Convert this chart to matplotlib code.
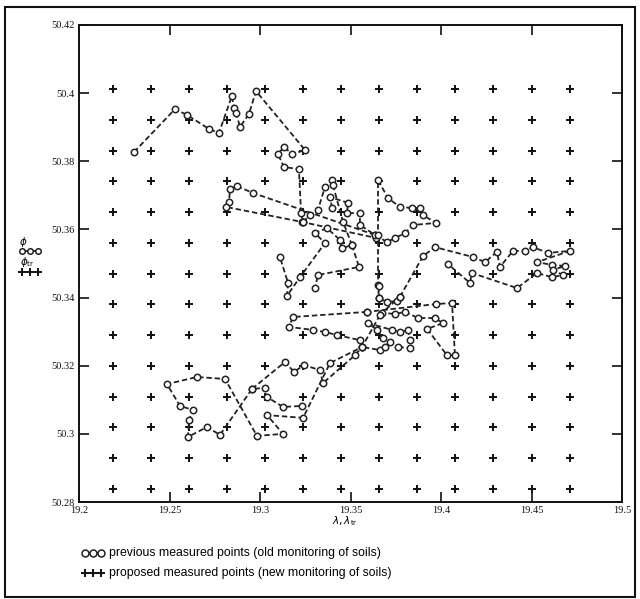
import matplotlib
matplotlib.use("Agg")
import matplotlib.pyplot as plt
from matplotlib.lines import Line2D
from matplotlib.patches import Rectangle

# proposed sampling grid (new monitoring)
grid_lon = [19.219, 19.240, 19.261, 19.282, 19.303, 19.324, 19.345,
            19.366, 19.387, 19.408, 19.429, 19.450, 19.471]
grid_lat = [50.2838, 50.2928, 50.3019, 50.3109, 50.3199, 50.3290, 50.3380,
            50.3470, 50.3560, 50.3651, 50.3741, 50.3831, 50.3922, 50.4012]

# previous measured points (old monitoring), as walked tracks
north_lon = [19.2304, 19.2530, 19.2597, 19.2718, 19.2773, 19.2845, 19.2856, 19.2867,
             19.2890, 19.2939, 19.2978, 19.3249, 19.3177, 19.3133, 19.3099, 19.3133,
             19.3215, 19.3227, 19.3238]
north_lat = [50.3827, 50.3953, 50.3936, 50.3895, 50.3883, 50.3992, 50.3956, 50.3942,
             50.3901, 50.3939, 50.4006, 50.3833, 50.3821, 50.3842, 50.3821, 50.3783,
             50.3777, 50.3648, 50.3622]

west_lon = [19.3635, 19.2961, 19.2873, 19.2834, 19.2829, 19.2812, 19.3232, 19.3641]
west_lat = [50.3584, 50.3707, 50.3727, 50.3719, 50.3680, 50.3666, 50.3622, 50.3575]

knot_lon = [19.3238, 19.3276, 19.3320, 19.3359, 19.3398, 19.3403, 19.3459, 19.3508,
            19.3453, 19.3442, 19.3370, 19.3304, 19.3359, 19.3221, 19.3149, 19.3155, 19.3110]
knot_lat = [50.3622, 50.3642, 50.3657, 50.3725, 50.3745, 50.3730, 50.3622, 50.3554,
            50.3545, 50.3569, 50.3604, 50.3589, 50.3560, 50.3460, 50.3405, 50.3443, 50.3519]

spur_lon = [19.3508, 19.3547, 19.3320, 19.3304]
spur_lat = [50.3554, 50.3490, 50.3466, 50.3428]

east_lon = [19.3398, 19.3387, 19.3486, 19.3481, 19.3552, 19.3552, 19.3635, 19.3702,
            19.3746, 19.3801, 19.3845, 19.3972, 19.3901, 19.3884, 19.3840, 19.3773,
            19.3707, 19.3652, 19.3652, 19.3652, 19.3657]
east_lat = [50.3663, 50.3695, 50.3678, 50.3648, 50.3648, 50.3613, 50.3584, 50.3563,
            50.3575, 50.3589, 50.3613, 50.3619, 50.3642, 50.3663, 50.3663, 50.3666,
            50.3692, 50.3745, 50.3584, 50.3437, 50.3399]

loop_lon = [19.3591, 19.3182, 19.3160, 19.3293, 19.3359, 19.3425, 19.3552, 19.3564,
            19.3663, 19.3691, 19.3718, 19.3680, 19.3646, 19.3597, 19.3729, 19.3773,
            19.3818, 19.3829, 19.3829, 19.3762]
loop_lat = [50.3358, 50.3343, 50.3314, 50.3305, 50.3299, 50.3290, 50.3275, 50.3255,
            50.3246, 50.3255, 50.3270, 50.3281, 50.3305, 50.3325, 50.3305, 50.3299,
            50.3305, 50.3275, 50.3252, 50.3255]

hook_lon = [19.3657, 19.3657, 19.3702, 19.3757, 19.3773, 19.3674, 19.3746, 19.3801,
            19.3873, 19.3967, 19.4011, 19.3923, 19.4033, 19.4077, 19.4061, 19.3972, 19.3591]
hook_lat = [50.3434, 50.3399, 50.3387, 50.3390, 50.3402, 50.3355, 50.3352, 50.3358,
            50.3340, 50.3340, 50.3325, 50.3308, 50.3231, 50.3231, 50.3384, 50.3381, 50.3358]

wing_lon = [19.3773, 19.3901, 19.3967, 19.4177, 19.4243, 19.4309, 19.4326, 19.4398,
            19.4464, 19.4508, 19.4591, 19.4713, 19.4530, 19.4613, 19.4685, 19.4619,
            19.4674, 19.4613, 19.4530, 19.4420, 19.4171, 19.4160, 19.4039]
wing_lat = [50.3402, 50.3522, 50.3548, 50.3519, 50.3504, 50.3534, 50.3490, 50.3537,
            50.3537, 50.3548, 50.3531, 50.3537, 50.3504, 50.3496, 50.3493, 50.3481,
            50.3466, 50.3460, 50.3472, 50.3428, 50.3472, 50.3443, 50.3498]

south_lon = [19.3663, 19.3564, 19.3387, 19.3238, 19.3039, 19.3127, 19.2983, 19.2807,
             19.2652, 19.2486, 19.2558, 19.2630, 19.2608, 19.2602, 19.2707, 19.2779,
             19.2956, 19.3028, 19.3039, 19.3127, 19.3232]
south_lat = [50.3349, 50.3255, 50.3208, 50.3047, 50.3055, 50.3000, 50.2994, 50.3161,
             50.3167, 50.3146, 50.3082, 50.3070, 50.3041, 50.2991, 50.3020, 50.2997,
             50.3132, 50.3135, 50.3108, 50.3079, 50.3082]

mid_lon = [19.2956, 19.3138, 19.3188, 19.3243, 19.3331, 19.3348, 19.3525, 19.3564]
mid_lat = [50.3132, 50.3211, 50.3182, 50.3202, 50.3187, 50.3149, 50.3231, 50.3255]

tracks = [(north_lon, north_lat), (west_lon, west_lat), (knot_lon, knot_lat),
          (spur_lon, spur_lat), (east_lon, east_lat), (loop_lon, loop_lat),
          (hook_lon, hook_lat), (wing_lon, wing_lat), (south_lon, south_lat),
          (mid_lon, mid_lat)]

xticks = [19.2, 19.25, 19.3, 19.35, 19.4, 19.45, 19.5]
xtick_labels = ["19.2", "19.25", "19.3", "19.35", "19.4", "19.45", "19.5"]
yticks = [50.28, 50.30, 50.32, 50.34, 50.36, 50.38, 50.40, 50.42]
ytick_labels = ["50.28", "50.3", "50.32", "50.34", "50.36", "50.38", "50.4", "50.42"]

W, H = 640, 599
fig = plt.figure(figsize=(W / 100, H / 100), dpi=100)
ax = fig.add_axes([79 / W, 1 - 502 / H, 543 / W, 477 / H])

track_style = dict(color="#222222", ls=(0, (3, 1.6)), lw=1.3, marker="o", ms=4.6,
                   mfc="white", mec="#222222", mew=1.1)
cross_style = dict(ls="none", marker="+", ms=5.5, mew=1.4, color="#111111")

gx = [lo for la in grid_lat for lo in grid_lon]
gy = [la for la in grid_lat for lo in grid_lon]
ax.plot(gx, gy, **cross_style)

for lon, lat in tracks:
    ax.plot(lon, lat, **track_style)

ax.set_xlim(19.2, 19.5)
ax.set_ylim(50.28, 50.42)
ax.set_xticks(xticks)
ax.set_xticklabels(xtick_labels)
ax.set_yticks(yticks)
ax.set_yticklabels(ytick_labels)
ax.tick_params(direction="in", length=7, width=1.2, top=True, right=True,
               labelsize=7.5, pad=3, colors="#111111")
for lab in ax.get_xticklabels() + ax.get_yticklabels():
    lab.set_family("Liberation Serif")
for sp in ax.spines.values():
    sp.set_linewidth(1.4)
    sp.set_color("#111111")

# axis labels
fig.text(345 / W, 1 - 521 / H, r"$\lambda, \lambda_{\rm tr}$", fontsize=7.5,
         ha="center", va="center")
fig.text(23 / W, 1 - 242 / H, r"$\phi$", fontsize=7.5, ha="center", va="center")
fig.add_artist(Line2D([22 / W, 30 / W, 38 / W], [1 - 251 / H] * 3, transform=fig.transFigure,
                      **{**track_style, "ms": 4}))
fig.text(20 / W, 1 - 262 / H, r"$\phi_{\rm tr}$", fontsize=7.5, ha="left", va="center")
fig.add_artist(Line2D([22 / W, 30 / W, 38 / W], [1 - 272 / H] * 3, transform=fig.transFigure,
                      **{**cross_style, "ms": 5.5}))

# legend below the axes
fig.add_artist(Line2D([85 / W, 93 / W, 101 / W], [1 - 553 / H] * 3, transform=fig.transFigure,
                      **{**track_style, "ms": 5}))
fig.text(109 / W, 1 - 553 / H, "previous measured points (old monitoring of soils)",
         fontsize=8.8, family="Liberation Sans", ha="left", va="center")
fig.add_artist(Line2D([85 / W, 93 / W, 101 / W], [1 - 573 / H] * 3, transform=fig.transFigure,
                      **{**cross_style, "ms": 6}))
fig.text(109 / W, 1 - 573 / H, "proposed measured points (new monitoring of soils)",
         fontsize=8.8, family="Liberation Sans", ha="left", va="center")

# outer frame
fig.patches.append(Rectangle((5 / W, 1 - 597 / H), 630 / W, 590 / H,
                             transform=fig.transFigure, fill=False, lw=1.5, ec="#111111"))

fig.savefig("out.png", dpi=100)
